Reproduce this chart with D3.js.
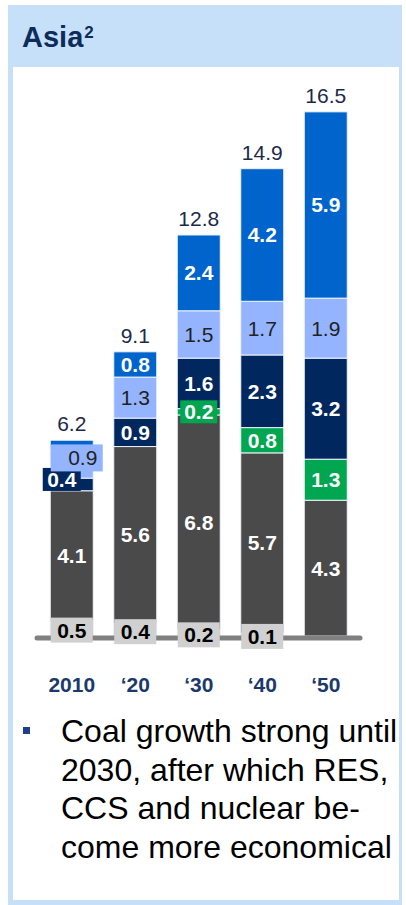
<!DOCTYPE html>
<html>
<head>
<meta charset="utf-8">
<script src="https://cdn.jsdelivr.net/npm/d3@7"></script>
<style>
  body { margin: 0; background: #fff; }
  svg { display: block; font-family: "Liberation Sans", Arial, sans-serif; }
</style>
</head>
<body>
<svg id="chart"></svg>
<script>
// values, bottom to top
let years = ["2010", "\u201820", "\u201830", "\u201840", "\u201850"];
let other = [0.5, 0.4, 0.2, 0.1, 0];
let coal = [4.1, 5.6, 6.8, 5.7, 4.3];
let ccs = [0, 0, 0.2, 0.8, 1.3];
let nuclear = [0.4, 0.9, 1.6, 2.3, 3.2];
let resLight = [0.9, 1.3, 1.5, 1.7, 1.9];
let resBlue = [0.3, 0.8, 2.4, 4.2, 5.9];
let totals = [6.2, 9.1, 12.8, 14.9, 16.5];
let bulletLines = ["Coal growth strong until", "2030, after which RES,", "CCS and nuclear be-", "come more economical"];

let width = 406, height = 905;
let svg = d3.select("#chart").attr("width", width).attr("height", height);

// frame + header
svg.append("rect").attr("x", 8).attr("y", 5).attr("width", 394).attr("height", 900).attr("fill", "#c6e0fa");
svg.append("rect").attr("x", 13).attr("y", 67).attr("width", 386).attr("height", 833).attr("fill", "#fff");
let title = svg.append("text").attr("x", 22).attr("y", 47)
    .attr("font-size", 29).attr("font-weight", "bold").attr("fill", "#0d2c5c");
title.append("tspan").text("Asia");
title.append("tspan").attr("font-size", 17).attr("dy", -9).attr("dx", 1).text("2");

let series = [
    {key: "other", values: other, color: "#bfbfbf"},
    {key: "coal", values: coal, color: "#4a4a4a", text: "#fff"},
    {key: "ccs", values: ccs, color: "#00a650", text: "#fff"},
    {key: "nuclear", values: nuclear, color: "#00275e", text: "#fff"},
    {key: "resLight", values: resLight, color: "#94b4ff", text: "#222", normal: true},
    {key: "resBlue", values: resBlue, color: "#0064cd", text: "#fff"}
];

let table = years.map((y, i) => {
    let row = {year: y};
    series.forEach(s => row[s.key] = s.values[i]);
    return row;
});
let stacked = d3.stack().keys(series.map(s => s.key))(table);

let x = d3.scaleBand().domain(years).range([40, 357.5]).paddingInner(0.323).paddingOuter(0.1615);
let y = d3.scaleLinear().domain([0, 16.5]).range([636, 115]);

// bars
stacked.forEach((layer, li) => {
    let s = series[li];
    svg.append("g").selectAll("rect")
        .data(layer.filter(d => d[1] - d[0] > 0))
        .join("rect")
        .attr("x", d => x(d.data.year))
        .attr("y", d => y(d[1]))
        .attr("width", x.bandwidth())
        .attr("height", d => y(d[0]) - y(d[1]))
        .attr("fill", s.color)
        .attr("stroke", "#eef3fb")
        .attr("stroke-width", 1);
});

// baseline
svg.append("line").attr("x1", 37).attr("x2", 360).attr("y1", 638).attr("y2", 638)
    .attr("stroke", "#808080").attr("stroke-width", 5).attr("stroke-linecap", "round");

// segment labels
let labels = svg.append("g").attr("font-size", 21).attr("text-anchor", "middle");
stacked.forEach((layer, li) => {
    let s = series[li];
    layer.forEach((d, i) => {
        let v = s.values[i];
        if (v <= 0) return;
        if (s.key === "resBlue" && i === 0) return; // tiny blue piece in 2010 has no label
        let cx = x(d.data.year) + x.bandwidth() / 2;
        let cy = (y(d[0]) + y(d[1])) / 2;
        let h = y(d[0]) - y(d[1]);
        let fill = s.text;
        let box = null;
        if (s.key === "other") {
            box = {w: 42, h: 25, cx: cx, cy: cy + 2, color: "#d0d0d0"};
            fill = "#000";
        } else if (h < 22) {
            let dx = 0, w = 37;
            if (s.key === "nuclear") { dx = -10; w = 38; cy -= 5; }
            box = {w: w, h: 23, cx: cx + dx, cy: cy, color: s.color};
        } else if (s.key === "resLight" && i === 0) {
            box = {w: 52, h: 27, cx: cx + 5, cy: cy - 6, color: s.color};
        }
        if (box) {
            labels.append("rect")
                .attr("x", box.cx - box.w / 2).attr("y", box.cy - box.h / 2)
                .attr("width", box.w).attr("height", box.h)
                .attr("fill", box.color);
            cx = box.cx; cy = box.cy;
        }
        if (s.key === "resLight" && i === 0) cx += 6;
        labels.append("text")
            .attr("x", cx).attr("y", cy + 7.5)
            .attr("fill", fill)
            .attr("font-weight", s.normal ? "normal" : "bold")
            .text(d3.format(".1f")(v));
    });
});

// totals
let tops = stacked[stacked.length - 1];
svg.append("g").selectAll("text")
    .data(totals)
    .join("text")
    .attr("x", (d, i) => x(years[i]) + x.bandwidth() / 2)
    .attr("y", (d, i) => y(tops[i][1]) - 9)
    .attr("text-anchor", "middle")
    .attr("font-size", 21)
    .attr("fill", "#1c2a4a")
    .text(d => d3.format(".1f")(d));

// x axis labels
let xAxis = svg.append("g").attr("transform", "translate(0,692)")
    .call(d3.axisBottom(x).tickSize(0).tickPadding(0));
xAxis.select(".domain").remove();
xAxis.selectAll("text")
    .attr("dy", 0)
    .attr("font-size", 21)
    .attr("font-weight", "bold")
    .attr("font-family", "Liberation Sans, Arial, sans-serif")
    .attr("fill", "#1b3a6b");

// bullet note
svg.append("rect").attr("x", 23).attr("y", 727).attr("width", 7).attr("height", 7).attr("fill", "#1f3e8c");
svg.append("g").selectAll("text")
    .data(bulletLines)
    .join("text")
    .attr("x", 61)
    .attr("y", (d, i) => 742 + i * 38.5)
    .attr("font-size", 32)
    .attr("fill", "#000")
    .text(d => d);
</script>
</body>
</html>
